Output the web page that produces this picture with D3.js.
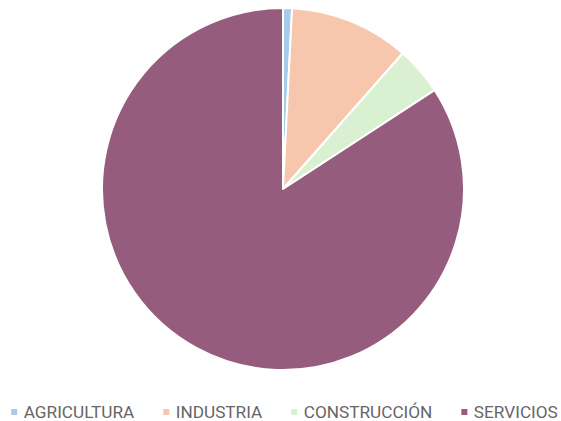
<!DOCTYPE html>
<html>
<head>
<meta charset="utf-8">
<script src="https://cdn.jsdelivr.net/npm/d3@7"></script>
<style>
  html, body { margin: 0; padding: 0; background: #fff; }
  svg { display: block; }
</style>
</head>
<body>
<svg id="chart" width="561" height="421"></svg>
<script>
// Employment share by sector
const categories = ["AGRICULTURA", "INDUSTRIA", "CONSTRUCCIÓN", "SERVICIOS"];
const values = [0.8, 10.7, 4.3, 84.2];
const colors = ["#a9cbeb", "#f6c7ac", "#d9f1d0", "#955c7e"];

const width = 561, height = 421;
const cx = 283, cy = 189, radius = 181;

const svg = d3.select("#chart");

const data = categories.map((c, i) => ({ name: c, value: values[i], color: colors[i] }));

const pie = d3.pie().sort(null).value(d => d.value);
const arc = d3.arc().innerRadius(0).outerRadius(radius);

svg.append("g")
  .attr("transform", `translate(${cx},${cy})`)
  .selectAll("path")
  .data(pie(data))
  .join("path")
  .attr("d", arc)
  .attr("fill", d => d.data.color)
  .attr("stroke", "#fff")
  .attr("stroke-width", 2)
  .attr("stroke-linejoin", "round");

// Legend, centred horizontally below the pie
const fontSize = 17.2;
const swatch = 6, swatchGap = 6.5, itemGap = 29;
const legendY = 412;

const legend = svg.append("g")
  .attr("font-family", "Roboto, sans-serif")
  .attr("font-size", fontSize)
  .attr("fill", "#666");

const items = legend.selectAll("g.item")
  .data(data)
  .join("g")
  .attr("class", "item");

items.append("rect")
  .attr("width", swatch)
  .attr("height", swatch)
  .attr("y", legendY - swatch / 2)
  .attr("fill", d => d.color);

items.append("text")
  .attr("y", legendY)
  .attr("dy", "0.35em")
  .text(d => d.name);

const widths = [];
items.select("text").each(function () { widths.push(this.getComputedTextLength()); });
const total = d3.sum(widths) + data.length * (swatch + swatchGap) + (data.length - 1) * itemGap;
let x = (width - total) / 2 + 4;
items.each(function (d, i) {
  const g = d3.select(this);
  g.select("rect").attr("x", x);
  g.select("text").attr("x", x + swatch + swatchGap);
  x += swatch + swatchGap + widths[i] + itemGap;
});
</script>
</body>
</html>
